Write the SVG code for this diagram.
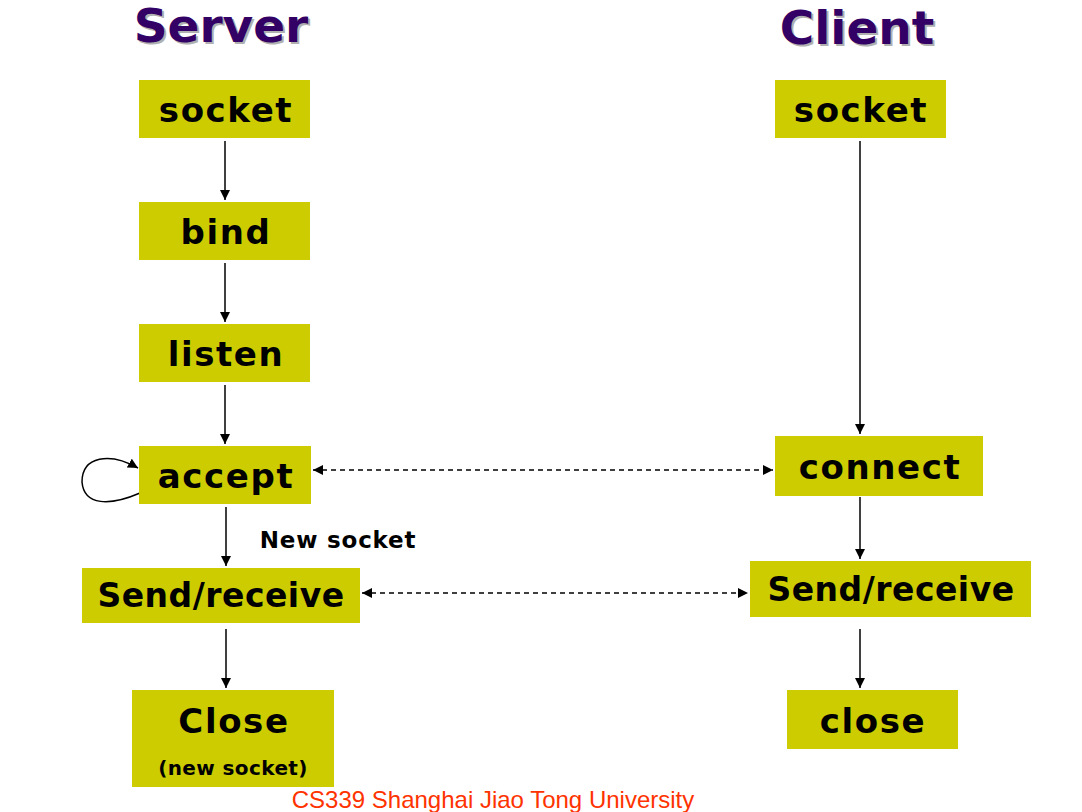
<svg xmlns="http://www.w3.org/2000/svg" width="1082" height="812" viewBox="0 0 1082 812">
<style>
.box{fill:#cccc00}
.t{font-family:"DejaVu Sans",Verdana,sans-serif;font-weight:bold;fill:#000;text-anchor:middle}
.big{font-size:34px;letter-spacing:1.6px}
.sr{font-size:33px;letter-spacing:0.5px}
.title{font-family:"DejaVu Sans",Verdana,sans-serif;font-weight:bold;font-size:47px;text-anchor:middle;fill:#330066}
.shadow{fill:#b0b0b0}
.ln{stroke:#000;stroke-width:1.5;fill:none}
.dash{stroke-dasharray:5,4}
</style>
<defs>
<marker id="ah" viewBox="0 0 10 10" refX="10" refY="5" markerWidth="10" markerHeight="10" markerUnits="userSpaceOnUse" orient="auto-start-reverse">
<path d="M0,0 L10,5 L0,10 z" fill="#000"/>
</marker>
</defs>
<rect width="1082" height="812" fill="#fff"/>
<g id="titles">
<text class="title shadow" x="223" y="44">Server</text>
<text class="title" x="221" y="42">Server</text>
<text class="title shadow" x="859" y="46">Client</text>
<text class="title" x="857" y="44">Client</text>
</g>
<g id="connectors">
<line class="ln" x1="225" y1="141" x2="225" y2="200" marker-end="url(#ah)"/>
<line class="ln" x1="225" y1="263" x2="225" y2="322" marker-end="url(#ah)"/>
<line class="ln" x1="225" y1="385" x2="225" y2="444" marker-end="url(#ah)"/>
<line class="ln" x1="226" y1="507" x2="226" y2="566" marker-end="url(#ah)"/>
<line class="ln" x1="226" y1="629" x2="226" y2="688" marker-end="url(#ah)"/>
<line class="ln" x1="860" y1="141" x2="860" y2="434" marker-end="url(#ah)"/>
<line class="ln" x1="860" y1="497" x2="860" y2="559" marker-end="url(#ah)"/>
<line class="ln" x1="860" y1="629" x2="860" y2="688" marker-end="url(#ah)"/>
<line class="ln dash" x1="313" y1="470" x2="773" y2="470" marker-start="url(#ah)" marker-end="url(#ah)"/>
<line class="ln dash" x1="362" y1="593" x2="748" y2="593" marker-start="url(#ah)" marker-end="url(#ah)"/>
<path class="ln" d="M140,493 C110,506 84,506 82,482 C82,456 110,452 138,468" marker-end="url(#ah)"/>
</g>
<g id="server-socket"><rect class="box" x="139" y="80" width="171" height="58"/><text class="t big" x="226" y="122">socket</text></g>
<g id="server-bind"><rect class="box" x="139" y="202" width="171" height="58"/><text class="t big" x="226" y="244">bind</text></g>
<g id="server-listen"><rect class="box" x="139" y="324" width="171" height="58"/><text class="t big" x="226" y="366">listen</text></g>
<g id="server-accept"><rect class="box" x="139" y="446" width="172" height="58"/><text class="t big" x="226" y="488">accept</text></g>
<g id="new-socket-label"><text class="t" style="font-size:23px;letter-spacing:0.8px" x="338" y="548">New socket</text></g>
<g id="server-sendrecv"><rect class="box" x="82" y="568" width="278" height="55"/><text class="t sr" x="221" y="607">Send/receive</text></g>
<g id="server-close"><rect class="box" x="132" y="690" width="202" height="97"/><text class="t big" x="234" y="733">Close</text><text class="t" style="font-size:20px;letter-spacing:0.4px" x="233" y="775">(new socket)</text></g>
<g id="client-socket"><rect class="box" x="775" y="80" width="171" height="58"/><text class="t big" x="861" y="122">socket</text></g>
<g id="client-connect"><rect class="box" x="775" y="436" width="208" height="60"/><text class="t big" x="880" y="479">connect</text></g>
<g id="client-sendrecv"><rect class="box" x="750" y="561" width="281" height="56"/><text class="t sr" x="891" y="601">Send/receive</text></g>
<g id="client-close"><rect class="box" x="787" y="690" width="171" height="59"/><text class="t big" x="873" y="733">close</text></g>
<g id="footer"><text x="493" y="808" style="font-family:'Liberation Sans',Arial,sans-serif;font-size:24px;fill:#ff3300;text-anchor:middle">CS339 Shanghai Jiao Tong University</text></g>
</svg>
